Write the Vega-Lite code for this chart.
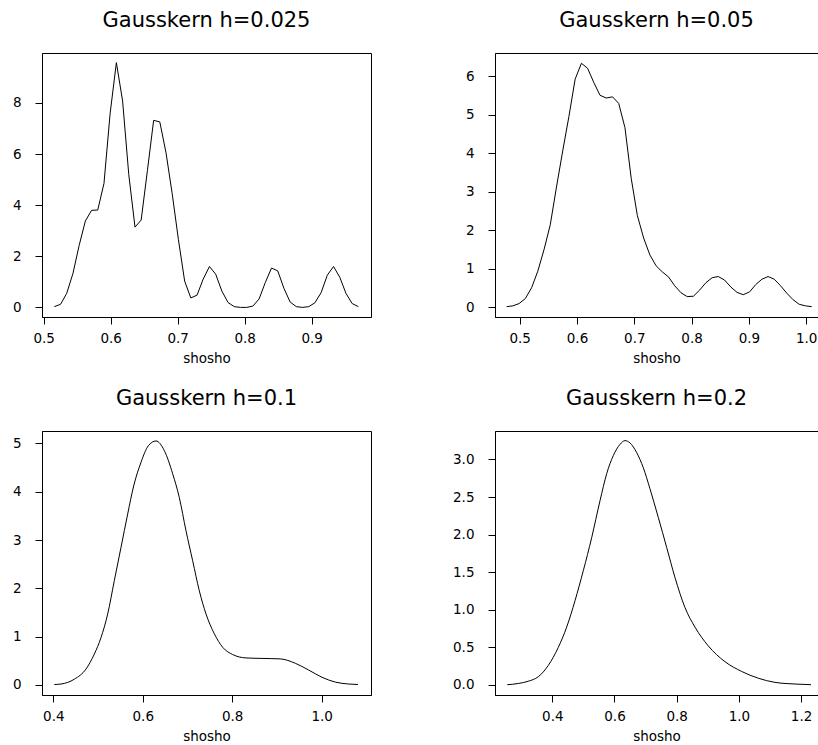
{
 "$schema": "https://vega.github.io/schema/vega-lite/v6.json",
 "padding": {"left": 11, "top": 9, "right": 0, "bottom": 0},
 "background": "white",
 "columns": 2,
 "spacing": {"row": 114, "column": 124},
 "bounds": "flush",
 "datasets": {
  "h1": [
   {"x":0.5159,"y":0.03},{"x":0.5252,"y":0.12},{"x":0.5344,"y":0.55},{"x":0.5437,"y":1.33},{"x":0.5529,"y":2.42},
   {"x":0.5622,"y":3.38},{"x":0.5715,"y":3.80},{"x":0.5807,"y":3.81},{"x":0.5900,"y":4.85},{"x":0.5992,"y":7.6},
   {"x":0.6085,"y":9.58},{"x":0.6178,"y":8.08},{"x":0.6270,"y":5.2},{"x":0.6363,"y":3.14},{"x":0.6455,"y":3.42},
   {"x":0.6548,"y":5.35},{"x":0.6641,"y":7.32},{"x":0.6733,"y":7.26},{"x":0.6826,"y":6.05},{"x":0.6918,"y":4.45},
   {"x":0.7011,"y":2.65},{"x":0.7104,"y":1.03},{"x":0.7196,"y":0.37},{"x":0.7289,"y":0.48},{"x":0.7381,"y":1.11},
   {"x":0.7474,"y":1.60},{"x":0.7567,"y":1.30},{"x":0.7659,"y":0.64},{"x":0.7752,"y":0.19},{"x":0.7844,"y":0.03},
   {"x":0.7937,"y":0.0},{"x":0.8030,"y":0.0},{"x":0.8122,"y":0.05},{"x":0.8215,"y":0.33},{"x":0.8307,"y":0.97},
   {"x":0.8400,"y":1.54},{"x":0.8493,"y":1.43},{"x":0.8585,"y":0.75},{"x":0.8678,"y":0.21},{"x":0.8770,"y":0.03},
   {"x":0.8863,"y":0.0},{"x":0.8956,"y":0.03},{"x":0.9048,"y":0.18},{"x":0.9141,"y":0.58},{"x":0.9233,"y":1.26},
   {"x":0.9326,"y":1.60},{"x":0.9419,"y":1.18},{"x":0.9511,"y":0.55},{"x":0.9604,"y":0.15},{"x":0.9696,"y":0.03}
  ],
  "h2": [
   {"x":0.4773,"y":0.02},{"x":0.4882,"y":0.04},{"x":0.4990,"y":0.10},{"x":0.5099,"y":0.23},{"x":0.5208,"y":0.51},
   {"x":0.5316,"y":0.94},{"x":0.5425,"y":1.50},{"x":0.5533,"y":2.14},{"x":0.5642,"y":3.12},{"x":0.5751,"y":4.06},
   {"x":0.5859,"y":4.95},{"x":0.5968,"y":5.92},{"x":0.6077,"y":6.33},{"x":0.6185,"y":6.20},{"x":0.6294,"y":5.83},
   {"x":0.6402,"y":5.50},{"x":0.6511,"y":5.43},{"x":0.6620,"y":5.46},{"x":0.6728,"y":5.29},{"x":0.6837,"y":4.66},
   {"x":0.6946,"y":3.35},{"x":0.7054,"y":2.38},{"x":0.7163,"y":1.80},{"x":0.7272,"y":1.36},{"x":0.7380,"y":1.08},
   {"x":0.7489,"y":0.92},{"x":0.7597,"y":0.79},{"x":0.7706,"y":0.56},{"x":0.7815,"y":0.38},{"x":0.7923,"y":0.28},
   {"x":0.8032,"y":0.29},{"x":0.8141,"y":0.45},{"x":0.8249,"y":0.64},{"x":0.8358,"y":0.77},{"x":0.8466,"y":0.80},
   {"x":0.8575,"y":0.71},{"x":0.8684,"y":0.53},{"x":0.8792,"y":0.39},{"x":0.8901,"y":0.33},{"x":0.9010,"y":0.40},
   {"x":0.9118,"y":0.59},{"x":0.9227,"y":0.73},{"x":0.9335,"y":0.80},{"x":0.9444,"y":0.73},{"x":0.9553,"y":0.56},
   {"x":0.9661,"y":0.37},{"x":0.9770,"y":0.20},{"x":0.9879,"y":0.08},{"x":0.9987,"y":0.04},{"x":1.0096,"y":0.02}
  ],
  "h3": [
   {"x":0.4023,"y":0.01},{"x":0.4172,"y":0.02},{"x":0.4470,"y":0.12},{"x":0.4731,"y":0.33},{"x":0.4917,"y":0.64},
   {"x":0.5066,"y":0.98},{"x":0.5216,"y":1.47},{"x":0.5364,"y":2.16},{"x":0.5514,"y":2.85},{"x":0.5663,"y":3.54},
   {"x":0.5797,"y":4.12},{"x":0.5961,"y":4.61},{"x":0.6124,"y":4.95},{"x":0.6296,"y":5.05},{"x":0.6482,"y":4.85},
   {"x":0.6669,"y":4.37},{"x":0.6817,"y":3.88},{"x":0.6967,"y":3.19},{"x":0.7116,"y":2.57},{"x":0.7264,"y":1.95},
   {"x":0.7414,"y":1.47},{"x":0.7600,"y":1.06},{"x":0.7787,"y":0.78},{"x":0.8011,"y":0.63},{"x":0.8308,"y":0.56},
   {"x":0.8665,"y":0.55},{"x":0.9075,"y":0.54},{"x":0.9410,"y":0.45},{"x":0.9708,"y":0.31},{"x":1.0007,"y":0.16},
   {"x":1.0305,"y":0.06},{"x":1.0603,"y":0.02},{"x":1.0812,"y":0.01}
  ],
  "h4": [
   {"x":0.2553,"y":0.004},{"x":0.2907,"y":0.02},{"x":0.3228,"y":0.05},{"x":0.3550,"y":0.11},{"x":0.3871,"y":0.26},
   {"x":0.4193,"y":0.50},{"x":0.4463,"y":0.77},{"x":0.4730,"y":1.12},{"x":0.4997,"y":1.52},{"x":0.5267,"y":1.96},
   {"x":0.5534,"y":2.45},{"x":0.5749,"y":2.81},{"x":0.5961,"y":3.05},{"x":0.6177,"y":3.20},{"x":0.6338,"y":3.25},
   {"x":0.6498,"y":3.22},{"x":0.6714,"y":3.09},{"x":0.6926,"y":2.89},{"x":0.7141,"y":2.61},{"x":0.7408,"y":2.23},
   {"x":0.7678,"y":1.83},{"x":0.7945,"y":1.43},{"x":0.8267,"y":1.03},{"x":0.8588,"y":0.77},{"x":0.9016,"y":0.52},
   {"x":0.9553,"y":0.31},{"x":1.0090,"y":0.18},{"x":1.0624,"y":0.09},{"x":1.1161,"y":0.035},{"x":1.1804,"y":0.013},
   {"x":1.2318,"y":0.004}
  ]
 },
 "concat": [
  {
   "width": 329, "height": 264,
   "title": "Gausskern h=0.025",
   "data": {"name": "h1"},
   "mark": {"type": "line", "color": "black", "strokeWidth": 1},
   "encoding": {
    "x": {"field": "x", "type": "quantitative", "scale": {"domain": [0.4975, 0.9885], "nice": false, "zero": false}, "axis": {"values": [0.5, 0.6, 0.7, 0.8, 0.9], "format": ".1f", "title": "shosho"}},
    "y": {"field": "y", "type": "quantitative", "scale": {"domain": [-0.376, 9.957], "nice": false, "zero": false}, "axis": {"values": [0, 2, 4, 6, 8], "format": "d", "title": null}}
   }
  },
  {
   "width": 323, "height": 264,
   "title": "Gausskern h=0.05",
   "data": {"name": "h2"},
   "mark": {"type": "line", "color": "black", "strokeWidth": 1},
   "encoding": {
    "x": {"field": "x", "type": "quantitative", "scale": {"domain": [0.4569, 1.0206], "nice": false, "zero": false}, "axis": {"values": [0.5, 0.6, 0.7, 0.8, 0.9, 1.0], "format": ".1f", "title": "shosho"}},
    "y": {"field": "y", "type": "quantitative", "scale": {"domain": [-0.249, 6.597], "nice": false, "zero": false}, "axis": {"values": [0, 1, 2, 3, 4, 5, 6], "format": "d", "title": null}}
   }
  },
  {
   "width": 329, "height": 264,
   "title": "Gausskern h=0.1",
   "data": {"name": "h3"},
   "mark": {"type": "line", "color": "black", "strokeWidth": 1, "interpolate": "monotone"},
   "encoding": {
    "x": {"field": "x", "type": "quantitative", "scale": {"domain": [0.3747, 1.1103], "nice": false, "zero": false}, "axis": {"values": [0.4, 0.6, 0.8, 1.0], "format": ".1f", "title": "shosho"}},
    "y": {"field": "y", "type": "quantitative", "scale": {"domain": [-0.207, 5.256], "nice": false, "zero": false}, "axis": {"values": [0, 1, 2, 3, 4, 5], "format": "d", "title": null}}
   }
  },
  {
   "width": 323, "height": 264,
   "title": "Gausskern h=0.2",
   "data": {"name": "h4"},
   "mark": {"type": "line", "color": "black", "strokeWidth": 1, "interpolate": "monotone"},
   "encoding": {
    "x": {"field": "x", "type": "quantitative", "scale": {"domain": [0.2158, 1.2544], "nice": false, "zero": false}, "axis": {"values": [0.4, 0.6, 0.8, 1.0, 1.2], "format": ".1f", "title": "shosho"}},
    "y": {"field": "y", "type": "quantitative", "scale": {"domain": [-0.133, 3.378], "nice": false, "zero": false}, "axis": {"values": [0, 0.5, 1, 1.5, 2, 2.5, 3], "format": ".1f", "title": null}}
   }
  }
 ],
 "config": {
  "font": "DejaVu Sans",
  "view": {"stroke": "black", "strokeWidth": 1},
  "title": {"font": "DejaVu Sans", "fontSize": 21, "fontWeight": "normal", "color": "black", "anchor": "middle", "baseline": "alphabetic", "offset": 22},
  "axis": {"domainColor": "black", "tickColor": "black", "labelColor": "black", "labelFont": "DejaVu Sans", "labelFontSize": 13.5, "titleFont": "DejaVu Sans", "titleFontSize": 13.5, "titleFontWeight": "normal", "titleColor": "black", "grid": false, "tickSize": 7, "labelFlush": false, "labelOverlap": false},
  "axisX": {"labelPadding": 7, "titlePadding": 7},
  "axisY": {"labelPadding": 14}
 }
}
